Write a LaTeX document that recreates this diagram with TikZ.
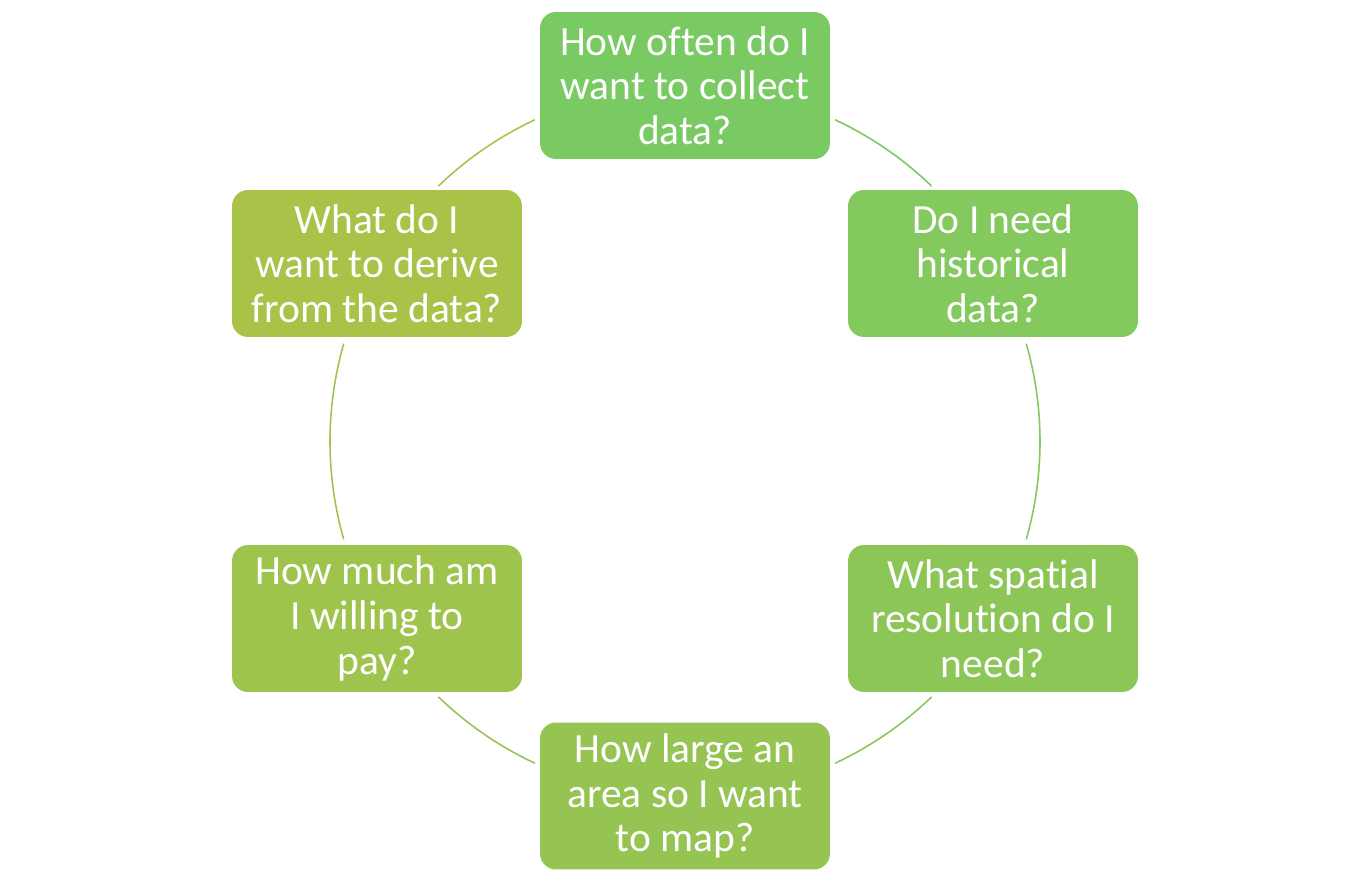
\documentclass[tikz,border=0pt]{standalone}
\usepackage{fontspec}
\setmainfont[Ligatures=NoCommon]{Carlito}
\definecolor{c1}{HTML}{79CA62}
\definecolor{c2}{HTML}{83C95D}
\definecolor{c3}{HTML}{8CC657}
\definecolor{c4}{HTML}{95C452}
\definecolor{c5}{HTML}{9FC44E}
\definecolor{c6}{HTML}{A9C248}
\begin{document}
\begin{tikzpicture}[x=0.02cm,y=-0.02cm,
  qbox/.style={rounded corners=0.32cm, minimum width=5.8cm, minimum height=2.94cm,
    inner sep=0pt, text=white, align=center,
    font=\fontsize{23.6}{25.4}\selectfont},
  arcline/.style={line width=0.9pt}]
\useasboundingbox (0,0) rectangle (1370,891);
\coordinate (c) at (685,441.5);
\node[qbox, fill=c1] (n1) at (685,85.5) {How often do I\\want to collect\\data?};
\node[qbox, fill=c2] (n2) at (993,263.5) {Do I need\\historical\\data?};
\node[qbox, fill=c3] (n3) at (993,618.5) {What spatial\\resolution do I\\need?};
\node[qbox, fill=c4] (n4) at (685,796) {How large an\\area so I want\\to map?};
\node[qbox, fill=c5] (n5) at (377,618.5) {How much am\\I willing to\\pay?};
\node[qbox, fill=c6] (n6) at (377,263.5) {What do I\\want to derive\\from the data?};
\draw[arcline, c1] ([shift={(-65:355)}]c) arc[start angle=-65, end angle=-46, radius=355];
\draw[arcline, c2] ([shift={(-16:355)}]c) arc[start angle=-16, end angle=16, radius=355];
\draw[arcline, c3] ([shift={(46:355)}]c) arc[start angle=46, end angle=65, radius=355];
\draw[arcline, c4] ([shift={(115:355)}]c) arc[start angle=115, end angle=134, radius=355];
\draw[arcline, c5] ([shift={(164:355)}]c) arc[start angle=164, end angle=196, radius=355];
\draw[arcline, c6] ([shift={(226:355)}]c) arc[start angle=226, end angle=245, radius=355];
\end{tikzpicture}
\end{document}
